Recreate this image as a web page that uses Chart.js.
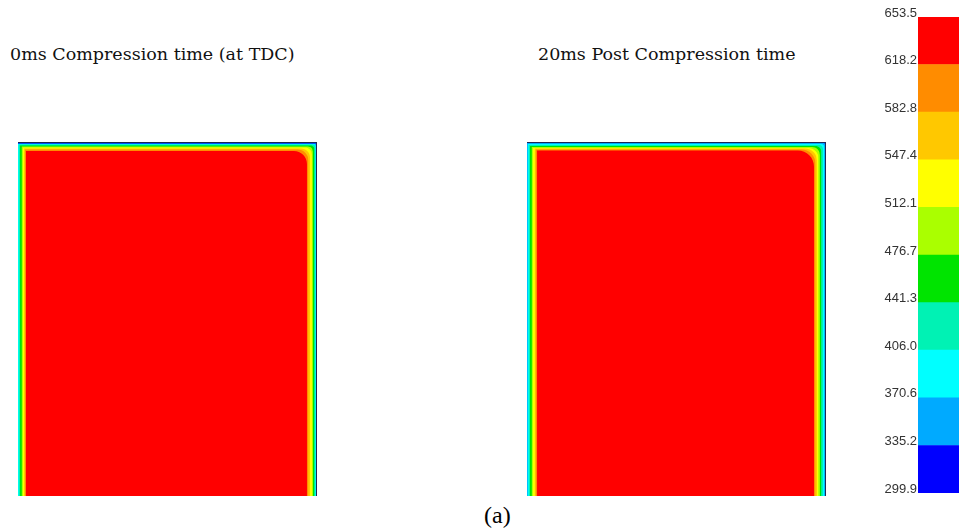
<!DOCTYPE html>
<html>
<head>
<meta charset="utf-8">
<script src="https://cdn.jsdelivr.net/npm/chart.js@4.4.1/dist/chart.umd.min.js"></script>
<style>
  html, body { margin: 0; padding: 0; background: #fff; overflow: hidden; }
  body { width: 959px; height: 530px; position: relative; }
  .panel { position: absolute; }
  .title { position: absolute; font-family: "DejaVu Serif", serif; font-size: 17.5px; color: #111; white-space: nowrap; }
  .caption { position: absolute; font-family: "Liberation Serif", serif; font-size: 24px; color: #000; }
</style>
</head>
<body>
<div class="title" style="left:10px; top:44px;">0ms Compression time (at TDC)</div>
<div class="title" style="left:538px; top:44px;">20ms Post Compression time</div>
<div class="caption" style="left:484px; top:502px;">(a)</div>

<div class="panel" style="left:18px; top:142px; width:299px; height:354px;"><canvas id="tdcChart"></canvas></div>
<div class="panel" style="left:527px; top:142px; width:299px; height:354px;"><canvas id="postChart"></canvas></div>
<div class="panel" style="left:860px; top:0px; width:110px; height:530px;"><canvas id="scaleChart"></canvas></div>

<script>
// ── DATA ──
// contour levels (K) and band colours, low -> high
const levels = [299.9, 335.2, 370.6, 406.0, 441.3, 476.7, 512.1, 547.4, 582.8, 618.2, 653.5];
const bandColors = ['#0000ff', '#00aaff', '#00ffff', '#00f2b4', '#00e400', '#aaff00', '#ffff00', '#ffc800', '#ff8c00', '#ff0000'];

// domain size (mm): half-bore x height
const domainW = 50;
const domainH = 59.4;

// isotherm distance from each wall (mm), for levels 335.2 ... 618.2
// 0ms (TDC)
const tdcLeft   = [0.00, 0.00, 0.08, 0.34, 0.59, 0.84, 1.01, 1.17, 1.34];
const tdcRight  = [0.08, 0.17, 0.25, 0.42, 0.67, 0.84, 1.17, 1.43, 1.68];
const tdcTop    = [0.25, 0.34, 0.42, 0.59, 0.76, 0.92, 1.09, 1.26, 1.51];
const tdcCorner = [0.17, 0.34, 0.50, 0.67, 0.84, 1.17, 1.51, 1.85, 2.18];
// 20ms post compression
const postLeft   = [0.00, 0.08, 0.25, 0.50, 0.76, 1.01, 1.26, 1.43, 1.68];
const postRight  = [0.08, 0.25, 0.50, 0.76, 1.01, 1.26, 1.51, 1.76, 2.01];
const postTop    = [0.17, 0.34, 0.50, 0.67, 0.84, 1.01, 1.09, 1.26, 1.43];
const postCorner = [0.34, 0.50, 0.67, 1.01, 1.34, 1.68, 2.01, 2.35, 2.68];

// region where T >= level: inset from left/right/top walls, rounded top-right corner
function bandShape(l, r, t, c) {
  const xr = domainW - r, yt = domainH - t;
  const pts = [{ x: l, y: 0 }, { x: l, y: yt }];
  const cx = xr - c, cy = yt - c;
  for (let k = 0; k <= 8; k++) {
    const a = Math.PI / 2 - (k / 8) * Math.PI / 2;
    pts.push({ x: cx + c * Math.cos(a), y: cy + c * Math.sin(a) });
  }
  pts.push({ x: xr, y: 0 });
  return pts;
}

function fieldChart(id, left, right, top, corner) {
  // order: lower value is drawn on top
  const datasets = [{
    data: bandShape(0, 0, 0, 0),
    backgroundColor: bandColors[0],
    fill: 'origin', borderWidth: 0, pointRadius: 0,
    order: 20,
  }];
  for (let i = 0; i < left.length; i++) {
    datasets.push({
      data: bandShape(left[i], right[i], top[i], corner[i]),
      backgroundColor: bandColors[i + 1],
      fill: 'origin', borderWidth: 0, pointRadius: 0,
      order: 19 - i,
    });
  }
  // wall outline (top + outer wall)
  datasets.push({
    data: [{ x: 0, y: domainH }, { x: domainW, y: domainH }, { x: domainW, y: 0 }],
    borderColor: '#1b2a55', borderWidth: 2, fill: false, pointRadius: 0,
    order: 0,
  });

  new Chart(document.getElementById(id).getContext('2d'), {
    type: 'line',
    data: { datasets },
    options: {
      responsive: true,
      maintainAspectRatio: false,
      animation: false,
      layout: { padding: 0 },
      plugins: { legend: { display: false }, tooltip: { enabled: false } },
      elements: { line: { tension: 0 } },
      scales: {
        x: { type: 'linear', min: 0, max: domainW, display: false },
        y: { type: 'linear', min: 0, max: domainH, display: false },
      },
    },
  });
}

window.addEventListener('DOMContentLoaded', () => {
  fieldChart('tdcChart', tdcLeft, tdcRight, tdcTop, tdcCorner);
  fieldChart('postChart', postLeft, postRight, postTop, postCorner);

  // Colour scale
  new Chart(document.getElementById('scaleChart').getContext('2d'), {
    type: 'bar',
    data: {
      labels: [''],
      datasets: bandColors.map((col, i) => ({
        data: [[levels[i], levels[i + 1]]],
        backgroundColor: col,
        barPercentage: 1,
        categoryPercentage: 1,
      })),
    },
    options: {
      responsive: true,
      maintainAspectRatio: false,
      animation: false,
      layout: { padding: { top: 17, bottom: 37, left: 0, right: 0 } },
      plugins: { legend: { display: false }, tooltip: { enabled: false } },
      scales: {
        x: { stacked: true, display: false },
        y: {
          min: levels[0], max: levels[levels.length - 1],
          afterBuildTicks: s => { s.ticks = levels.map(v => ({ value: v })); },
          afterFit: s => { s.width = 58; },
          grid: { display: false, drawTicks: false, tickLength: 0 },
          border: { display: false },
          ticks: {
            color: '#333', padding: 1, labelOffset: -4,
            font: { family: 'Liberation Sans', size: 13 },
            callback: v => Number(v).toFixed(1),
          },
        },
      },
    },
  });
});
</script>
</body>
</html>
